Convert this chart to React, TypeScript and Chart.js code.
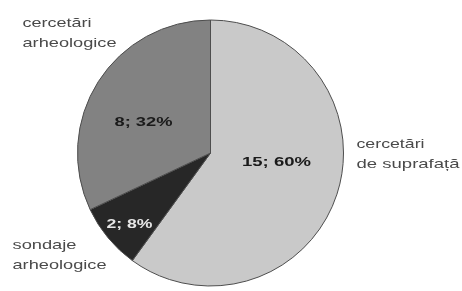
import React, { useEffect, useRef } from "react";
import { Chart, registerables } from "chart.js";

Chart.register(...registerables);

const categories = ["cercetări de suprafață", "sondaje arheologice", "cercetări arheologice"];
const values = [15, 2, 8];
const percents = ["60%", "8%", "32%"];
const colors = ["#c9c9c9", "#272727", "#828282"];

// label lines, anchors (relative to pie centre), target widths
const catLines = [["cercetări", "de suprafață"], ["sondaje", "arheologice"], ["cercetări", "arheologice"]];
const catPos = [
  { dx: 146, dy: -5, w: [68, 103] },
  { dx: -198, dy: 96, w: [64, 94] },
  { dx: -188, dy: -126, w: [69, 94] },
];
const dataPos = [
  { dx: 66, dy: 8, w: 69, color: "#1a1a1a" },
  { dx: -81, dy: 70, w: 46, color: "#e6e6e6" },
  { dx: -67, dy: -32, w: 58, color: "#1a1a1a" },
];

const labelPlugin = {
  id: "pieLabels",
  afterDatasetsDraw(chart: any) {
    const ctx = chart.ctx;
    const arc = chart.getDatasetMeta(0).data[0];
    const cx = arc.x, cy = arc.y;
    ctx.save();
    ctx.textBaseline = "alphabetic";
    // category labels
    ctx.font = "13px 'Liberation Sans', Arial, sans-serif";
    ctx.fillStyle = "#4a4a4a";
    catLines.forEach((lines, i) => {
      const p = catPos[i];
      lines.forEach((line, j) => {
        const m = ctx.measureText(line).width;
        const s = p.w[j] / m;
        ctx.save();
        ctx.translate(cx + p.dx, cy + p.dy + j * 20);
        ctx.scale(s, 1);
        ctx.textAlign = "left";
        ctx.fillText(line, 0, 0);
        ctx.restore();
      });
    });
    // data labels
    ctx.font = "bold 13px 'Liberation Sans', Arial, sans-serif";
    values.forEach((v, i) => {
      const p = dataPos[i];
      const txt = `${v}; ${percents[i]}`;
      const m = ctx.measureText(txt).width;
      const s = p.w / m;
      ctx.save();
      ctx.translate(cx + p.dx, cy + p.dy + 5);
      ctx.scale(s, 1);
      ctx.textAlign = "center";
      ctx.fillStyle = p.color;
      ctx.fillText(txt, 0, 0);
      ctx.restore();
    });
    ctx.restore();
  },
};

export default function App() {
  const ref = useRef<HTMLCanvasElement>(null);
  useEffect(() => {
    document.body.style.margin = "0";
    const chart = new Chart(ref.current!, {
      type: "pie",
      data: {
        labels: categories,
        datasets: [
          {
            data: values,
            backgroundColor: colors,
            borderColor: "#4d4d4d",
            borderWidth: 1,
          },
        ],
      },
      options: {
        animation: false,
        responsive: false,
        layout: { padding: { left: 77, right: 118, top: 19, bottom: 4 } },
        plugins: { legend: { display: false }, tooltip: { enabled: false } },
      },
      plugins: [labelPlugin],
    });
    return () => chart.destroy();
  }, []);
  return (
    <div style={{ position: "absolute", left: 0, top: 0, width: 462, height: 291, background: "#fff" }}>
      <canvas ref={ref} width={462} height={291} style={{ display: "block" }} />
    </div>
  );
}
